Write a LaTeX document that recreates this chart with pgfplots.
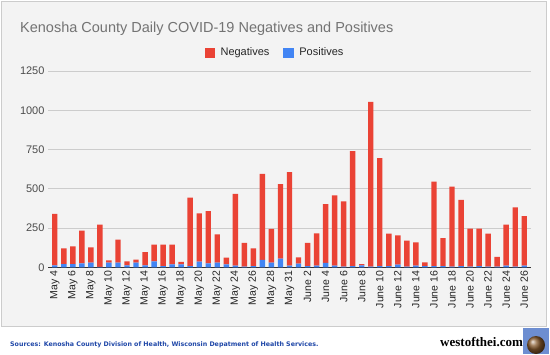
\documentclass[border=0pt]{standalone}
\usepackage{pgfplots}
\pgfplotsset{compat=1.18}
\usepackage{pgfplotstable}
\usepackage{fontspec}
\setmainfont{Liberation Sans}
\newfontfamily\serifb{Liberation Serif}
\newfontfamily\dejavu{DejaVu Sans}
\definecolor{negred}{HTML}{EA4335}
\definecolor{posblue}{HTML}{4285F4}
\definecolor{panelbg}{HTML}{F3F3F3}
\definecolor{srcblue}{HTML}{1F47A8}
\pgfplotstableread{
x neg pos
0 328 13
1 100 21
2 112 21
3 208 25
4 97 30
5 268 3
6 14 30
7 146 30
8 25 13
9 19 30
10 84 13
11 106 38
12 136 8
13 125 19
14 15 19
15 435 8
16 307 36
17 333 25
18 180 30
19 42 19
20 457 11
21 151 4
22 113 8
23 548 47
24 214 30
25 475 55
26 595 11
27 41 23
28 147 8
29 205 11
30 375 28
31 447 11
32 416 4
33 732 8
34 8 13
35 1049 4
36 687 8
37 206 8
38 186 17
39 166 4
40 148 11
41 24 8
42 537 8
43 178 8
44 509 4
45 422 8
46 242 4
47 238 8
48 210 4
49 62 4
50 260 11
51 377 4
52 315 11
}\data
\begin{document}
\begin{tikzpicture}
\begin{scope}[x=1bp,y=1bp]
\useasboundingbox (0,0) rectangle (550,354);
\fill[white] (0,0) rectangle (550,354);
\filldraw[fill=panelbg, draw=black!20] (1.5,27.5) rectangle (546.5,352.5);
\node[anchor=base west, text=black!55, font=\fontsize{14.5bp}{17bp}\selectfont, inner sep=0] at (20,322) {Kenosha County Daily COVID-19 Negatives and Positives};
\node[anchor=base west, text=srcblue, font=\dejavu\bfseries\fontsize{6.3bp}{7.5bp}\selectfont, inner sep=0] at (10,8) {Sources: Kenosha County Division of Health, Wisconsin Depatment of Health Services.};
\node[anchor=base west, font=\serifb\bfseries\fontsize{13bp}{15bp}\selectfont, inner sep=0] at (440,8) {westofthei.com};
\fill[cyan!40!blue!60!white] (523,0) rectangle (549,26);
\shade[ball color=brown!70!black] (536,9) circle (9);
\end{scope}
\begin{axis}[
  at={(48bp,86.7bp)}, anchor=south west,
  width=483bp, height=196.3bp, scale only axis,
  xmin=-0.75, xmax=52.75, ymin=0, ymax=1250,
  ybar stacked, bar width=0.6,
  ytick={0,250,...,1250},
  xtick={0,2,...,52},
  xticklabels={May 4,May 6,May 8,May 10,May 12,May 14,May 16,May 18,May 20,May 22,May 24,May 26,May 28,May 31,June 2,June 4,June 6,June 8,June 10,June 12,June 14,June 16,June 18,June 20,June 22,June 24,June 26},
  xticklabel style={rotate=90, anchor=east, font=\fontsize{10.5bp}{12bp}\selectfont, text=black!85},
  yticklabel style={font=\fontsize{11bp}{13bp}\selectfont, text=black!70},
  /pgf/number format/assume math mode=true,
  /pgf/number format/1000 sep={},
  scaled y ticks=false,
  major tick length=0,
  ymajorgrids, grid style={color=black!20, line width=0.8bp},
  axis lines*=left,
  y axis line style={draw=none},
  x axis line style={black!80, line width=1bp},
  legend style={at={(0.47,1.094)}, anchor=center, draw=none, fill=none, legend columns=2,
    font=\fontsize{11bp}{13bp}\selectfont, text=black!85,
    /tikz/every odd column/.append style={column sep=4bp},
    /tikz/every even column/.append style={column sep=12bp}},
  legend image code/.code={\fill[#1] (0bp,-4.7bp) rectangle (9.5bp,4.8bp);},
]
\addlegendimage{negred}
\addlegendentry{Negatives}
\addlegendimage{posblue}
\addlegendentry{Positives}
\addplot[fill=posblue, draw=none, forget plot] table[x=x, y=pos] {\data};
\addplot[fill=negred, draw=none, forget plot] table[x=x, y=neg] {\data};
\end{axis}
\end{tikzpicture}
\end{document}
